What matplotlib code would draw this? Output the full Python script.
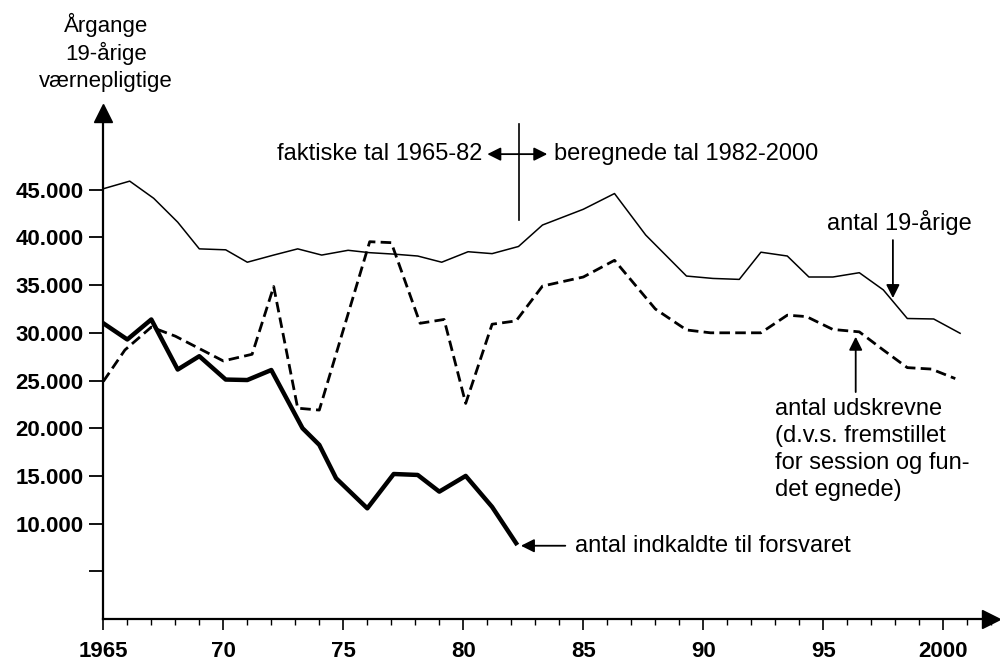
import matplotlib
matplotlib.use('Agg')
import matplotlib.pyplot as plt
from matplotlib.ticker import FixedLocator, MultipleLocator

plt.rcParams['font.family'] = ['Liberation Sans', 'DejaVu Sans']

# ---- data ----
years_19 = [1965.0, 1966.1, 1967.1, 1968.1, 1969.0, 1970.1, 1971.0, 1972.1, 1973.1, 1974.1,
            1975.2, 1976.1, 1977.1, 1978.1, 1979.1, 1980.2, 1981.2, 1982.3, 1983.3, 1985.0,
            1986.3, 1987.6, 1989.3, 1990.4, 1991.5, 1992.4, 1993.5, 1994.4, 1995.4, 1996.5,
            1997.5, 1998.5, 1999.6, 2000.7]
antal_19 = [45100, 45900, 44100, 41600, 38800, 38700, 37400, 38150, 38800, 38150,
            38650, 38400, 38250, 38050, 37400, 38500, 38300, 39050, 41300, 42950,
            44600, 40250, 35950, 35700, 35600, 38450, 38050, 35850, 35850, 36300,
            34500, 31500, 31450, 29950]

years_uds = [1965.0, 1965.9, 1967.0, 1968.0, 1969.0, 1970.0, 1971.2, 1972.1, 1973.1, 1974.0,
             1976.1, 1977.0, 1978.2, 1979.2, 1980.1, 1981.2, 1982.2, 1983.3, 1985.0, 1986.3,
             1988.0, 1989.3, 1990.3, 1992.4, 1993.5, 1994.3, 1995.4, 1996.5, 1997.5, 1998.5,
             1999.5, 2000.5]
antal_uds = [24900, 28200, 30600, 29650, 28350, 27050, 27750, 34850, 22100, 21900,
             39550, 39450, 31000, 31400, 22600, 30900, 31250, 34900, 35850, 37600,
             32500, 30300, 30000, 30000, 31850, 31700, 30350, 30100, 28200, 26350,
             26200, 25200]

years_ind = [1965.0, 1966.0, 1967.0, 1968.1, 1969.0, 1970.1, 1971.0, 1972.0, 1973.3, 1974.0,
             1974.7, 1976.0, 1977.1, 1978.1, 1979.0, 1980.1, 1981.2, 1982.2]
antal_ind = [31000, 29300, 31400, 26150, 27550, 25100, 25050, 26100, 20000, 18250,
             14750, 11600, 15200, 15100, 13350, 15000, 11750, 7950]

ytick_vals = [5000, 10000, 15000, 20000, 25000, 30000, 35000, 40000, 45000]
ytick_labels = ['', '10.000', '15.000', '20.000', '25.000', '30.000', '35.000', '40.000', '45.000']
xtick_vals = [1965, 1970, 1975, 1980, 1985, 1990, 1995, 2000]
xtick_labels = ['1965', '70', '75', '80', '85', '90', '95', '2000']

# ---- figure ----
fig = plt.figure(figsize=(10, 6.64), dpi=100)
fig.patch.set_facecolor('white')
ax = fig.add_axes([0.1033, 45 / 664, 0.888, 505.6 / 664])
ax.set_xlim(1965, 2002)
ax.set_ylim(0, 53000)

ax.plot(years_19, antal_19, color='black', lw=1.1)
ax.plot(years_uds, antal_uds, color='black', lw=2.0, dashes=(3.8, 1.9))
ax.plot(years_ind, antal_ind, color='black', lw=3.2)

for s in ['top', 'right']:
    ax.spines[s].set_visible(False)
for s in ['left', 'bottom']:
    ax.spines[s].set_linewidth(1.6)

ax.yaxis.set_major_locator(FixedLocator(ytick_vals))
ax.set_yticklabels(ytick_labels, fontsize=16, fontweight='bold')
ax.xaxis.set_major_locator(FixedLocator(xtick_vals))
ax.xaxis.set_minor_locator(MultipleLocator(1))
ax.set_xticklabels(xtick_labels, fontsize=16, fontweight='bold')
ax.tick_params(axis='y', direction='out', length=10, width=1.3, pad=4)
ax.tick_params(axis='x', which='major', direction='out', length=8, width=1.2, pad=8)
ax.tick_params(axis='x', which='minor', direction='out', length=4, width=1.0)

# axis arrow heads
ax.plot(0, 1, marker='^', color='black', markersize=13, transform=ax.transAxes, clip_on=False)
ax.plot(1, 0, marker='>', color='black', markersize=13, transform=ax.transAxes, clip_on=False)

# y-axis title
fig.text(0.106, 1 - 25 / 664, 'Årgange', ha='center', va='center', fontsize=16)
fig.text(0.106, 1 - 53 / 664, '19-årige', ha='center', va='center', fontsize=16)
fig.text(0.106, 1 - 82 / 664, 'værnepligtige', ha='center', va='center', fontsize=16)

arrow = dict(arrowstyle='-|>', mutation_scale=20, lw=1.3, color='black',
             shrinkA=0, shrinkB=0)

# faktiske / beregnede separator
ax.plot([1982.3, 1982.3], [41800, 51900], color='black', lw=1.2)
ax.annotate('', xy=(1981.0, 48730), xytext=(1982.3, 48730), arrowprops=arrow)
ax.annotate('', xy=(1983.5, 48730), xytext=(1982.3, 48730), arrowprops=arrow)
ax.text(1980.8, 48730, 'faktiske tal 1965-82', ha='right', va='center', fontsize=17)
ax.text(1983.8, 48730, 'beregnede tal 1982-2000', ha='left', va='center', fontsize=17)

# antal 19-årige
ax.text(1995.15, 41600, 'antal 19-årige', ha='left', va='center', fontsize=17)
ax.annotate('', xy=(1997.9, 33640), xytext=(1997.9, 39720), arrowprops=arrow)

# antal udskrevne
ax.annotate('', xy=(1996.35, 29590), xytext=(1996.35, 23790), arrowprops=arrow)
uds_lines = ['antal udskrevne', '(d.v.s. fremstillet', 'for session og fun-', 'det egnede)']
for i, t in enumerate(uds_lines):
    ax.text(1993.0, 22010 - i * 2830, t, ha='left', va='center', fontsize=17)

# antal indkaldte
ax.annotate('', xy=(1982.4, 7680), xytext=(1984.25, 7680), arrowprops=arrow)
ax.text(1984.65, 7650, 'antal indkaldte til forsvaret', ha='left', va='center', fontsize=17)

fig.savefig('out.png', dpi=100, facecolor='white')
